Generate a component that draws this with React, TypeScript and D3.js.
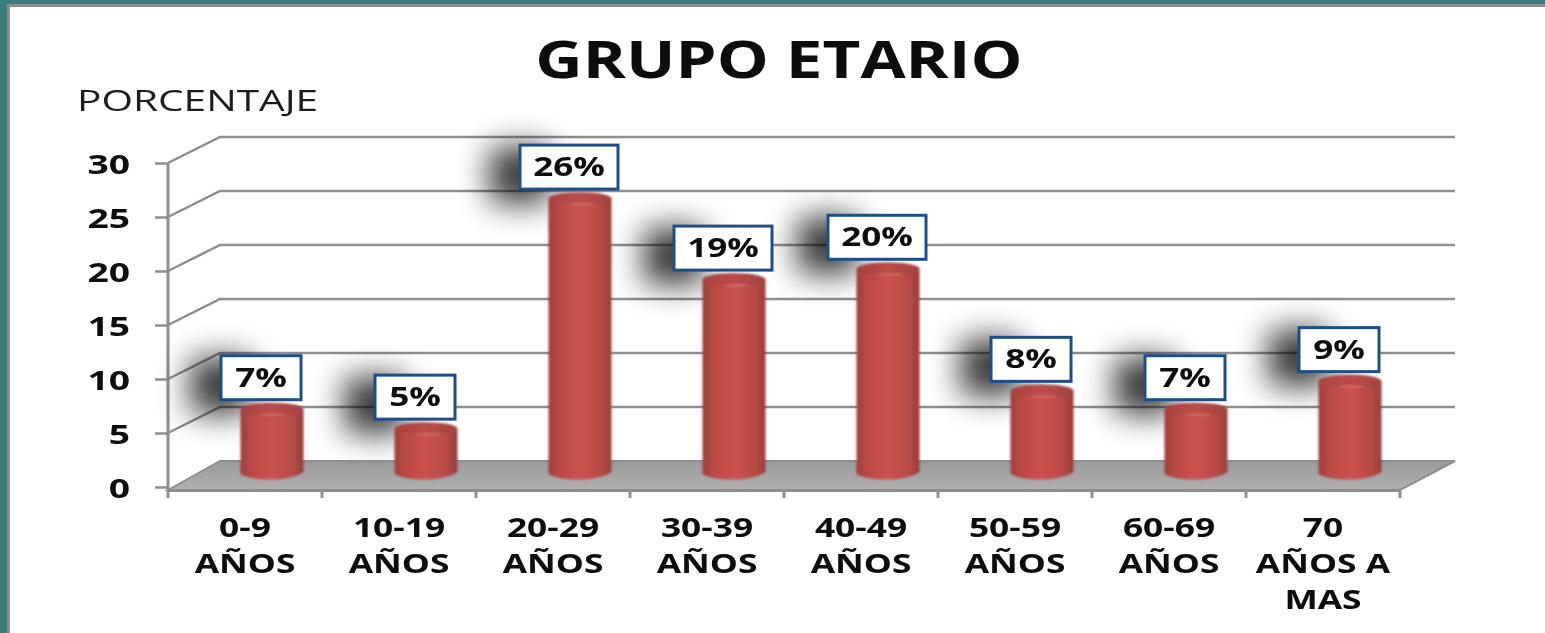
import React, {useEffect, useRef} from 'react';
import * as d3 from 'd3';

const categories = ['0-9|AÑOS', '10-19|AÑOS', '20-29|AÑOS', '30-39|AÑOS', '40-49|AÑOS', '50-59|AÑOS', '60-69|AÑOS', '70|AÑOS A|MAS'];
// bar heights as they read against the axis, labels as printed on the chart
const barValues = [6, 4.2, 25.5, 18, 19, 7.7, 6, 8.6];
const percentLabels = ['7%', '5%', '26%', '19%', '20%', '8%', '7%', '9%'];
const yTicks = [0, 5, 10, 15, 20, 25, 30];

const width = 1545;
const height = 633;
const left = 168;
const right = 1400;
const bottom = 487;
const top = 163;
const depthX = 52;
const depthY = -26;
const barW = 63;
const ry = 6.5;

const GREY = '#8e8e8e';
const FONT = '"Open Sans", sans-serif';

const y = d3.scaleLinear().domain([0, 30]).range([bottom, top]);
const x = d3.scaleBand().domain(categories).range([left, right]);

const barPath = (cx: number, topY: number, baseY: number) => {
    const p = d3.path();
    const l = cx - barW / 2;
    const r = cx + barW / 2;
    p.moveTo(l, topY);
    p.lineTo(l, baseY);
    p.bezierCurveTo(l + 14, baseY + ry * 1.2, r - 14, baseY + ry * 1.2, r, baseY - 2);
    p.lineTo(r, topY);
    p.closePath();
    return p.toString();
};

const App = () => {
    const yRef = useRef<SVGGElement>(null);
    const xRef = useRef<SVGGElement>(null);

    useEffect(() => {
        const yAxis = d3.select(yRef.current);
        yAxis.selectAll('*').remove();
        yAxis.call(d3.axisLeft(y).tickValues(yTicks).tickSize(13).tickPadding(0) as any);
        yAxis.select('.domain').remove();
        yAxis.selectAll('line').attr('stroke', GREY).attr('stroke-width', 2.5);
        yAxis.selectAll('text')
            .attr('x', 0)
            .attr('dy', '0.36em')
            .attr('transform', 'translate(-38,1) scale(1.43,1)')
            .attr('font-family', FONT)
            .attr('font-weight', 700)
            .attr('font-size', 26)
            .attr('fill', '#0a0a0a')
            .attr('filter', 'url(#soft)');

        const xAxis = d3.select(xRef.current);
        xAxis.selectAll('*').remove();
        xAxis.call(d3.axisBottom(x).tickValues([]).tickSizeOuter(0) as any);
        xAxis.select('.domain').attr('stroke', GREY).attr('stroke-width', 3);
        xAxis.selectAll('.edge')
            .data([...categories.map(c => x(c) as number), right])
            .enter().append('line')
            .attr('class', 'edge')
            .attr('x1', d => d)
            .attr('x2', d => d)
            .attr('y1', 0)
            .attr('y2', 8)
            .attr('stroke', GREY)
            .attr('stroke-width', 3);
    }, []);

    const baseY = bottom + depthY / 2;

    return (
        <svg width={width} height={height} style={{position: 'fixed', left: 0, top: 0}}>
            <defs>
                <linearGradient id="cyl" x1="0" x2="1" y1="0" y2="0">
                    <stop offset="0" stopColor="#a03f3d"/>
                    <stop offset="0.18" stopColor="#bb4946"/>
                    <stop offset="0.5" stopColor="#cb524e"/>
                    <stop offset="0.82" stopColor="#b84a47"/>
                    <stop offset="1" stopColor="#94403e"/>
                </linearGradient>
                <linearGradient id="cap" x1="0" x2="1" y1="0" y2="0">
                    <stop offset="0" stopColor="#a84240"/>
                    <stop offset="0.5" stopColor="#bb4c49"/>
                    <stop offset="1" stopColor="#a04341"/>
                </linearGradient>
                <linearGradient id="floor" x1="0" x2="0" y1="0" y2="1">
                    <stop offset="0" stopColor="#9a9a9a"/>
                    <stop offset="1" stopColor="#b0b0b0"/>
                </linearGradient>
                <filter id="blob" x="-150%" y="-150%" width="400%" height="400%">
                    <feGaussianBlur stdDeviation="16"/>
                </filter>
                <filter id="soft" x="-10%" y="-10%" width="120%" height="120%">
                    <feGaussianBlur stdDeviation="0.55"/>
                </filter>
                <filter id="edge" x="-10%" y="-10%" width="120%" height="120%">
                    <feGaussianBlur stdDeviation="0.8"/>
                </filter>
            </defs>

            {/* slide background and frame */}
            <rect width={width} height={height} fill="#fff"/>
            <rect x={0} y={0} width={width} height={4} fill="#3d7d7b"/>
            <rect x={0} y={0} width={7} height={height} fill="#3d7d7b"/>
            <rect x={7} y={4} width={width - 7} height={3} fill="#8c8c8c"/>
            <rect x={7} y={4} width={3} height={height - 4} fill="#8c8c8c"/>

            <text transform="translate(779,78) scale(1.26,1)" textAnchor="middle" fontFamily={FONT} fontWeight={700}
                  fontSize={52} fill="#0a0a0a" filter="url(#soft)">GRUPO ETARIO</text>
            <text transform="translate(77,111) scale(1.40,1)" fontFamily={FONT} fontSize={29} fill="#1a1a1a"
                  filter="url(#soft)">PORCENTAJE</text>

            {/* walls */}
            {yTicks.filter(t => t > 0).map(t => (
                <path key={t} fill="none" stroke={GREY} strokeWidth={2.5}
                      d={`M${left},${y(t)}L${left + depthX},${y(t) + depthY}H${right + 55}`}/>
            ))}
            <polygon fill="url(#floor)" stroke={GREY} strokeWidth={2}
                     points={`${left},${bottom + 3} ${left + depthX},${bottom + depthY} ${right + 55},${bottom + depthY} ${right},${bottom + 3}`}/>

            <line x1={left} x2={left} y1={top} y2={bottom + 3} stroke={GREY} strokeWidth={3}/>
            <g ref={yRef} transform={`translate(${left},0)`}/>
            <g ref={xRef} transform={`translate(0,${bottom + 3})`}/>

            {/* label shadows sit under the bars */}
            {barValues.map((v, i) => {
                const cx = (x(categories[i]) as number) + x.bandwidth() / 2 + depthX / 2 + 1;
                const w = percentLabels[i].length > 2 ? 100 : 82;
                const boxBottom = y(v) + depthY / 2 - ry - 1;
                return (
                    <rect key={i} x={cx - 10 - w / 2 - 30} y={boxBottom - 44} width={60} height={56}
                          fill="#000" opacity={0.8} filter="url(#blob)"/>
                );
            })}

            {/* cylinders */}
            {barValues.map((v, i) => {
                const cx = (x(categories[i]) as number) + x.bandwidth() / 2 + depthX / 2 + 1;
                const topY = y(v) + depthY / 2;
                return (
                    <g key={i} filter="url(#edge)">
                        <path d={barPath(cx, topY, baseY)} fill="url(#cyl)"/>
                        <ellipse cx={cx} cy={topY} rx={barW / 2} ry={ry} fill="url(#cap)"/>
                        <ellipse cx={cx + 2} cy={topY + ry - 1} rx={14} ry={0.9} fill="#d8706c"/>
                    </g>
                );
            })}

            {/* data labels */}
            {barValues.map((v, i) => {
                const cx = (x(categories[i]) as number) + x.bandwidth() / 2 + depthX / 2 - 10;
                const w = percentLabels[i].length > 2 ? 98 : 80;
                const boxBottom = y(v) + depthY / 2 - ry - 3;
                return (
                    <g key={i}>
                        <rect x={cx - w / 2} y={boxBottom - 44} width={w} height={44} fill="#fff"
                              stroke="#1f4e86" strokeWidth={3}/>
                        <text transform={`translate(${cx},${boxBottom - 13}) scale(1.35,1)`} textAnchor="middle"
                              fontFamily={FONT} fontWeight={700} fontSize={26} fill="#0a0a0a"
                              filter="url(#soft)">{percentLabels[i]}</text>
                    </g>
                );
            })}

            {/* category labels */}
            {categories.map(c => (
                <g key={c}>
                    {c.split('|').map((line, j) => (
                        <text key={j}
                              transform={`translate(${(x(c) as number) + x.bandwidth() / 2},${537 + j * 36}) scale(1.36,1)`}
                              textAnchor="middle" fontFamily={FONT} fontWeight={700} fontSize={26} fill="#0a0a0a"
                              filter="url(#soft)">{line}</text>
                    ))}
                </g>
            ))}
        </svg>
    );
};

export default App;
